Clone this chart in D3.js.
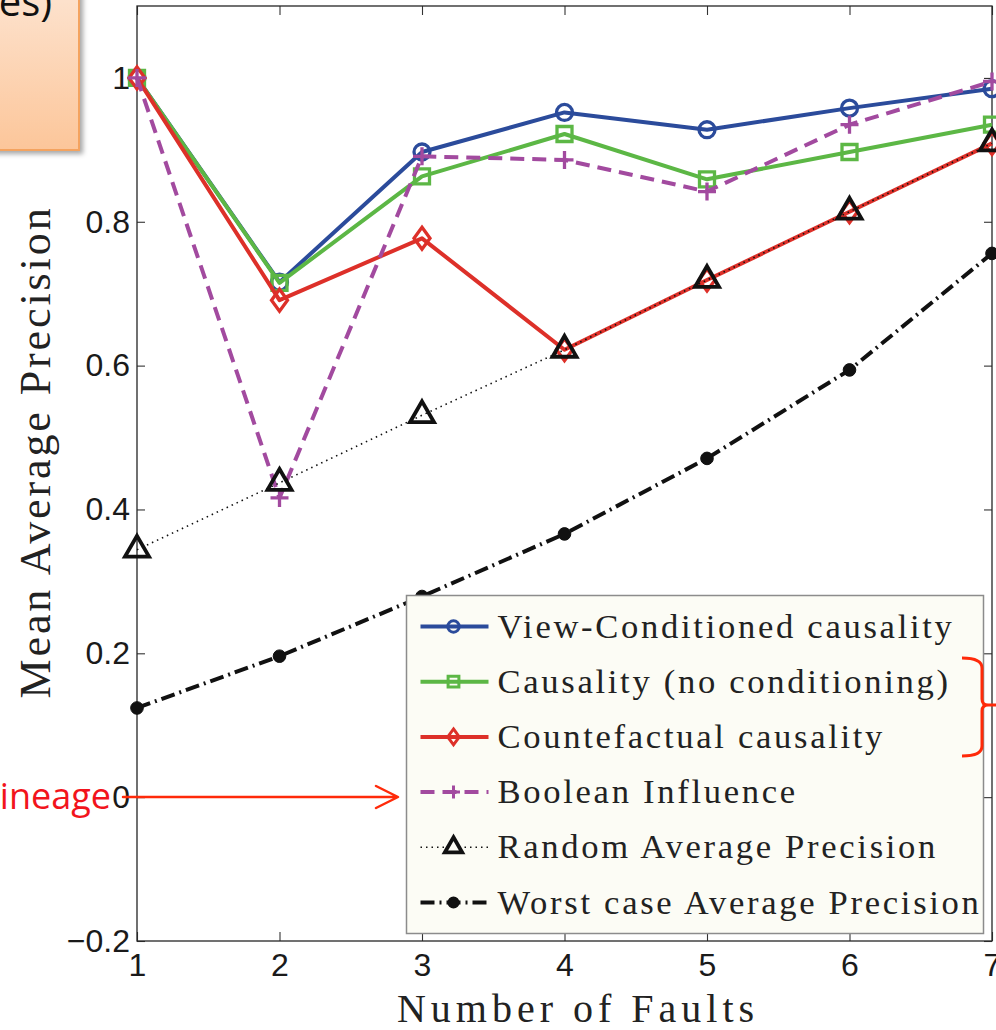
<!DOCTYPE html>
<html>
<head>
<meta charset="utf-8">
<script src="https://cdn.jsdelivr.net/npm/d3@7"></script>
<style>
  body { margin: 0; background: #fff; }
  svg { display: block; }
</style>
</head>
<body>
<div id="chart"></div>
<script>
// values
var faults = [1, 2, 3, 4, 5, 6, 7];
var viewConditioned = [1.0, 0.716, 0.897, 0.952, 0.928, 0.958, 0.985];
var causalityNoCond = [1.0, 0.715, 0.863, 0.922, 0.859, 0.897, 0.935];
var counterfactual  = [1.0, 0.691, 0.777, 0.622, 0.719, 0.814, 0.909];
var booleanInfluence = [1.0, 0.416, 0.891, 0.886, 0.842, 0.935, 0.995];
var randomAP = [0.344, 0.437, 0.531, 0.622, 0.719, 0.814, 0.909];
var worstAP  = [0.124, 0.196, 0.279, 0.366, 0.471, 0.594, 0.756];
var seriesNames = ["View-Conditioned causality", "Causality (no conditioning)", "Countefactual causality",
                   "Boolean Influence", "Random Average Precision", "Worst case Average Precision"];
var yTicks = [-0.2, 0, 0.2, 0.4, 0.6, 0.8, 1];

var series = [viewConditioned, causalityNoCond, counterfactual, booleanInfluence, randomAP, worstAP];

// look of each series (same order as above)
var styles = [
  {color: "#2b4b9b", dash: null,         width: 4,   marker: "circle"},
  {color: "#5cb745", dash: null,         width: 4,   marker: "square"},
  {color: "#dd3029", dash: null,         width: 4,   marker: "diamond"},
  {color: "#a24a9f", dash: "14,8",       width: 4,   marker: "plus"},
  {color: "#111111", dash: "1.5,4",      width: 1.6, marker: "triangle"},
  {color: "#111111", dash: "14,5,2,5",   width: 4,   marker: "dot"}
];

// k scales the marker: 1 in the plot, smaller in the legend
function markerPath(type, k) {
  if (type == "circle") return d3.symbol(d3.symbolCircle, 200 * k * k)();
  if (type == "square") return d3.symbol(d3.symbolSquare, 225 * k * k)();
  if (type == "diamond") return "M0," + (-11 * k) + "L" + (8 * k) + ",0L0," + (11 * k) + "L" + (-8 * k) + ",0Z";
  if (type == "plus") return "M" + (-9 * k) + ",0H" + (9 * k) + "M0," + (-9 * k) + "V" + (9 * k);
  if (type == "triangle") return d3.symbol(d3.symbolTriangle, 250 * k * k)();
  return d3.symbol(d3.symbolCircle, 125 * k * k)();
}

var svg = d3.select("#chart").append("svg").attr("width", 996).attr("height", 1030),
    margin = {top: 6, right: 4, bottom: 89, left: 137},
    width = 996 - margin.left - margin.right,
    height = 1030 - margin.top - margin.bottom;

svg.append("rect").attr("width", 996).attr("height", 1030).attr("fill", "#fff");

// slide annotation box (top left, cut off)
var defs = svg.append("defs");
var grad = defs.append("linearGradient").attr("id", "peach").attr("x1", 0).attr("y1", 0).attr("x2", 0).attr("y2", 1);
grad.append("stop").attr("offset", "0%").attr("stop-color", "#fde3cf");
grad.append("stop").attr("offset", "100%").attr("stop-color", "#fcc69a");
defs.append("filter").attr("id", "shadow").attr("x", "-20%").attr("y", "-20%").attr("width", "150%").attr("height", "150%")
  .append("feDropShadow").attr("dx", 3).attr("dy", 3).attr("stdDeviation", 2.5).attr("flood-color", "#000").attr("flood-opacity", 0.35);

svg.append("rect")
  .attr("x", -10).attr("y", -10).attr("width", 89).attr("height", 160)
  .attr("fill", "url(#peach)").attr("stroke", "#f4a35e").attr("stroke-width", 2)
  .attr("filter", "url(#shadow)");
svg.append("text")
  .attr("x", 52).attr("y", 16).attr("text-anchor", "end")
  .attr("font-family", "'Open Sans', sans-serif").attr("font-size", 40).attr("fill", "#111")
  .text("es)");

var g = svg.append("g").attr("transform", "translate(" + margin.left + "," + margin.top + ")");

var x = d3.scaleLinear().domain([1, 7]).range([0, width]);
var y = d3.scaleLinear().domain([-0.2, 1.1]).range([height, 0]);
var fmt = d3.format("~g");

// axes: ticks point inwards on all four sides, like matlab
g.append("g").attr("class", "axis")
  .call(d3.axisLeft(y).tickValues(yTicks).tickSizeInner(-8).tickSizeOuter(0).tickPadding(7).tickFormat(fmt));
g.append("g").attr("class", "axis").attr("transform", "translate(" + width + ",0)")
  .call(d3.axisRight(y).tickValues(yTicks).tickSizeInner(-8).tickSizeOuter(0).tickFormat(""));
g.append("g").attr("class", "axis").attr("transform", "translate(0," + height + ")")
  .call(d3.axisBottom(x).tickValues(faults).tickSizeInner(-9).tickSizeOuter(0).tickPadding(12).tickFormat(d3.format("d")));
g.append("g").attr("class", "axis")
  .call(d3.axisTop(x).tickValues(faults).tickSizeInner(-9).tickSizeOuter(0).tickFormat(""));

g.selectAll(".axis .domain").remove();
g.selectAll(".axis line").attr("stroke", "#333").attr("stroke-width", 1.1);
g.selectAll(".axis text")
  .attr("font-family", "'Liberation Sans', Arial, sans-serif")
  .attr("font-size", 32).attr("fill", "#1a1a1a");

g.append("rect")
  .attr("width", width).attr("height", height)
  .attr("fill", "none").attr("stroke", "#262626").attr("stroke-width", 1.3);

// axis titles
svg.append("text")
  .attr("x", 578).attr("y", 1022).attr("text-anchor", "middle")
  .attr("font-family", "'Liberation Serif', 'Times New Roman', serif").attr("font-size", 40)
  .attr("letter-spacing", 5).attr("fill", "#222")
  .text("Number of Faults");
svg.append("text")
  .attr("transform", "translate(50,452) rotate(-90)").attr("text-anchor", "middle")
  .attr("font-family", "'Liberation Serif', 'Times New Roman', serif").attr("font-size", 44)
  .attr("letter-spacing", 2.9).attr("fill", "#222")
  .text("Mean Average Precision");

// series
var line = d3.line()
  .x(function(d, i) { return x(faults[i]); })
  .y(function(d) { return y(d); });

series.forEach(function(values, k) {
  var s = styles[k];
  var sg = g.append("g");
  sg.append("path")
    .datum(values)
    .attr("d", line)
    .attr("fill", "none")
    .attr("stroke", s.color)
    .attr("stroke-width", s.width)
    .attr("stroke-dasharray", s.dash)
    .attr("stroke-linejoin", "round");
  sg.selectAll("path.mk")
    .data(values)
    .enter().append("path")
      .attr("class", "mk")
      .attr("transform", function(d, i) { return "translate(" + x(faults[i]) + "," + y(d) + ")"; })
      .attr("d", markerPath(s.marker, 1))
      .attr("fill", s.marker == "dot" ? s.color : "none")
      .attr("stroke", s.color)
      .attr("stroke-width", s.marker == "triangle" ? 3.8 : (s.marker == "dot" ? 1 : 3.3));
});

// legend
var legend = svg.append("g").attr("transform", "translate(406.5,595.5)");
legend.append("rect")
  .attr("width", 577).attr("height", 338)
  .attr("fill", "#fcfcf5").attr("stroke", "#8c8c8c").attr("stroke-width", 1.5);

var item = legend.selectAll("g.item")
  .data(seriesNames)
  .enter().append("g")
    .attr("class", "item")
    .attr("transform", function(d, i) { return "translate(0," + (31 + i * 55.2) + ")"; });

item.append("line")
  .attr("x1", 14).attr("x2", 82)
  .attr("stroke", function(d, i) { return styles[i].color; })
  .attr("stroke-width", function(d, i) { return styles[i].width; })
  .attr("stroke-dasharray", function(d, i) { return styles[i].dash; });
item.append("path")
  .attr("transform", "translate(47,0)")
  .attr("d", function(d, i) { return markerPath(styles[i].marker, 0.72); })
  .attr("fill", function(d, i) { return styles[i].marker == "dot" ? styles[i].color : (styles[i].marker == "triangle" ? "#fcfcf5" : "none"); })
  .attr("stroke", function(d, i) { return styles[i].color; })
  .attr("stroke-width", function(d, i) { return styles[i].marker == "triangle" ? 3.8 : 3; });
item.append("text")
  .attr("x", 91).attr("y", 11)
  .attr("font-family", "'Liberation Serif', 'Times New Roman', serif").attr("font-size", 34.6)
  .attr("letter-spacing", 2.7).attr("fill", "#222")
  .text(function(d) { return d; });

// red slide annotations
svg.append("text")
  .attr("x", 111).attr("y", 809).attr("text-anchor", "end")
  .attr("font-family", "'Open Sans', sans-serif").attr("font-size", 36).attr("fill", "#f2141c")
  .text("ineage");
svg.append("path")
  .attr("d", "M123,797H397M376,786L398,797L376,808")
  .attr("fill", "none").attr("stroke", "#ff2a0a").attr("stroke-width", 2.5)
  .attr("stroke-linecap", "round").attr("stroke-linejoin", "round");
svg.append("path")
  .attr("d", "M962,658Q982,658 982,668L982,699Q982,705 988,705L996,705M988,705Q982,705 982,711L982,746Q982,756 962,756")
  .attr("fill", "none").attr("stroke", "#ff2a0a").attr("stroke-width", 3);
</script>
</body>
</html>
